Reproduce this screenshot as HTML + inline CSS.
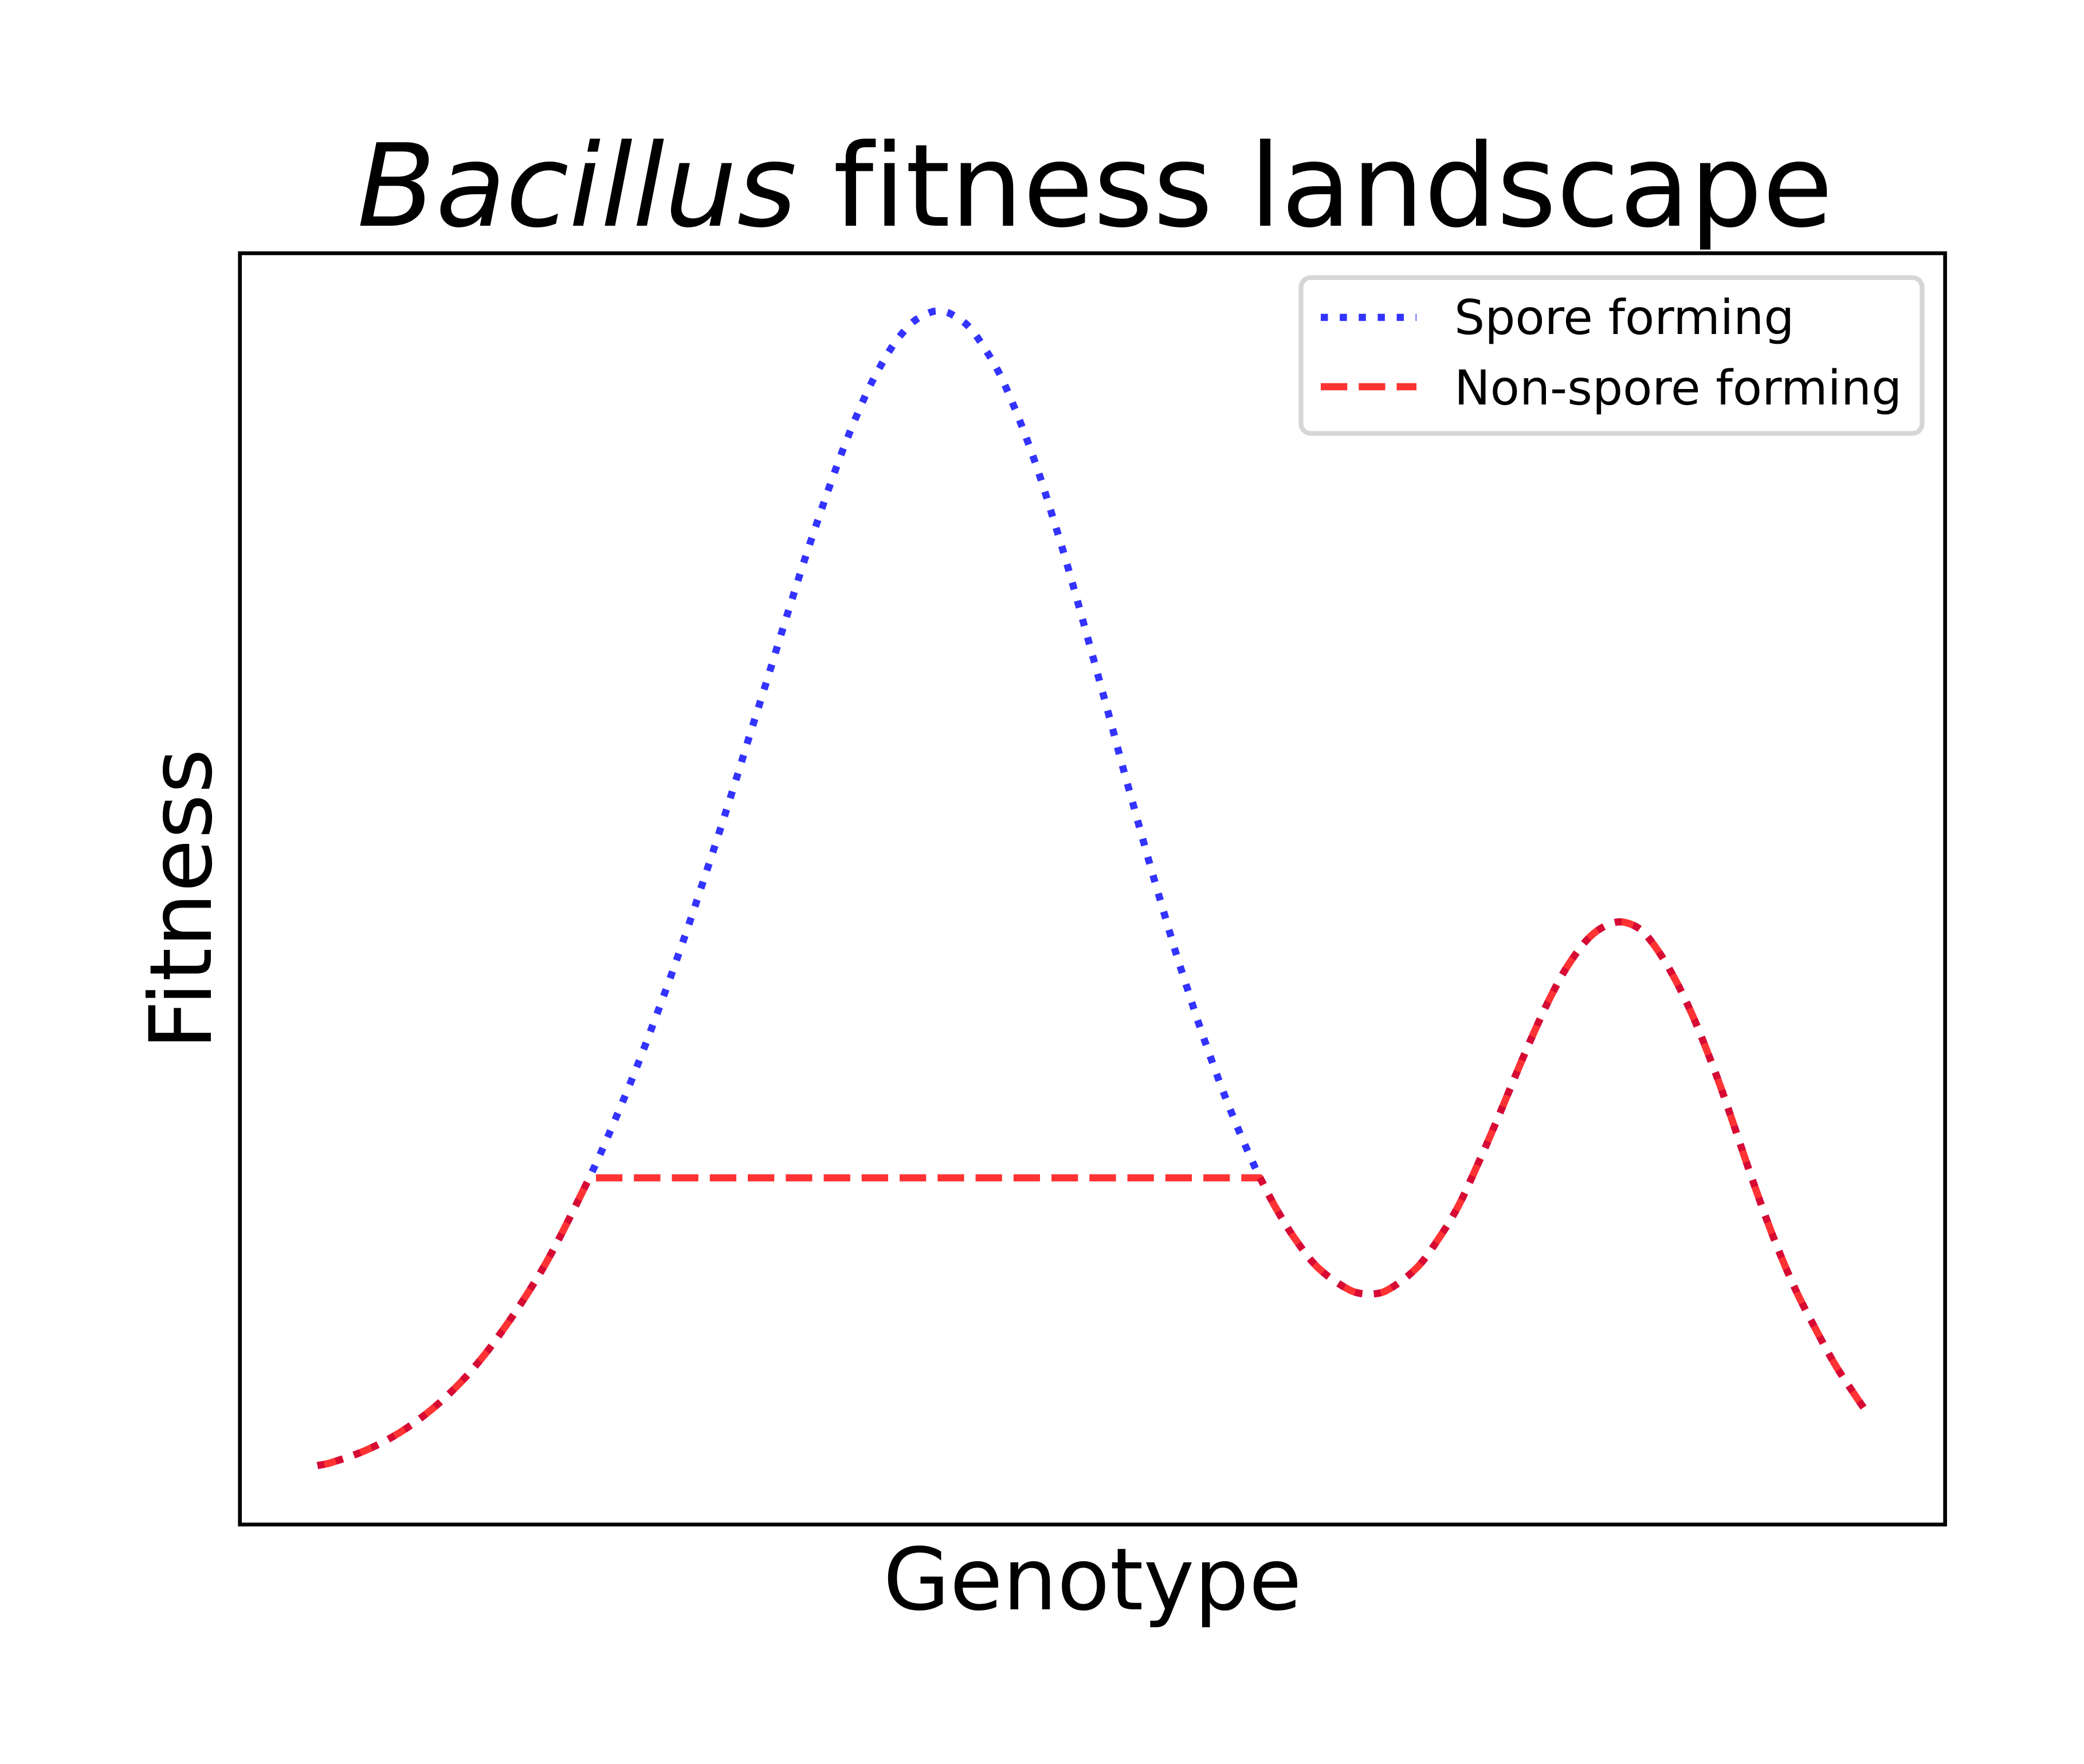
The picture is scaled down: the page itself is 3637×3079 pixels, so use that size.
<!DOCTYPE html>
<html lang="en">
<head>
<meta charset="utf-8">
<title>Bacillus fitness landscape</title>
<style>
html,body{margin:0;padding:0;background:#fff;}
svg{display:block;}
text{font-family:"DejaVu Sans",sans-serif;fill:#000;text-rendering:geometricPrecision;font-variant-ligatures:none;}
</style>
</head>
<body>
<svg id="chart" xmlns="http://www.w3.org/2000/svg" width="3637" height="3079" viewBox="0 0 3637 3079">
  <rect x="0" y="0" width="3637" height="3079" fill="#ffffff"/>
  <text x="1911" y="394" font-size="200" text-anchor="middle"><tspan font-style="italic">Bacillus</tspan> fitness landscape</text>
  <g id="series"></g>
  <rect x="418.7" y="442" width="2975.9" height="2219" fill="none" stroke="#000" stroke-width="6.67"/>
  <text x="1906.6" y="2809" font-size="150" text-anchor="middle">Genotype</text>
  <text transform="translate(368 1569) rotate(-90)" font-size="150" letter-spacing="1" text-anchor="middle">Fitness</text>
  <g>
    <rect x="2270.5" y="484.5" width="1084" height="272" rx="17" ry="17" fill="#ffffff" fill-opacity="0.8" stroke="#d6d6d6" stroke-width="8.33"/>
    <line x1="2305" y1="554" x2="2472" y2="554" stroke="#0000ff" stroke-opacity="0.8" stroke-width="12.5" stroke-dasharray="12.5 20.625"/>
    <text x="2538" y="583" font-size="83.8">Spore forming</text>
    <line x1="2305" y1="675" x2="2472" y2="675" stroke="#ff0000" stroke-opacity="0.8" stroke-width="12.5" stroke-dasharray="46.25 20"/>
    <text x="2538" y="706" font-size="83.8">Non-spore forming</text>
  </g>
</svg>
<script>
const genotype = [0,0.82,3.12,5.29,7.27,9.08,10.68,12.15,13.51,14.77,15.91,17,17.54,18.3,19.27,20.21,21.11,21.97,22.81,24.02,24.79,25.56,26.31,27.05,27.77,28.5,29.23,29.95,30.68,31.42,32.2,33,33.83,34.75,35.75,36.96,37.67,38.52,39.59,40.22,40.84,41.85,42.62,43.91,44.91,45.8,46.61,47.35,48.07,48.75,49.41,50.06,50.71,51.35,51.98,52.64,53.29,53.96,54.65,55.34,56.09,56.85,57.66,58.51,59.43,60.41,60.81,61.79,63.09,64.61,66.59,67.76,68.96,70.9,72.36,73.59,74.66,75.65,76.6,77.54,78.51,79.55,80.74,82.25,83.83,85.18,86.32,87.58,88.65,89.59,90.46,91.28,92.63,94,95.37,96.74,97.91,99.25,99.77];
const sporeFitness = [0.1,0.33,1.42,2.94,4.85,7.08,9.52,12.18,14.9,17.69,20.58,23.52,25,27.22,30.25,33.27,36.35,39.42,42.49,47.15,50.26,53.39,56.51,59.65,62.79,65.91,69.05,72.19,75.32,78.45,81.58,84.69,87.76,90.83,93.81,96.68,97.99,99.16,99.91,100,99.76,98.87,97.63,94.81,91.82,88.77,85.68,82.54,79.4,76.24,73.07,69.91,66.74,63.58,60.41,57.23,54.08,50.91,47.76,44.63,41.49,38.36,35.26,32.18,29.12,26.12,25,22.48,19.67,17.14,15.29,14.94,15.24,17.19,19.8,22.53,25.59,28.6,31.62,34.66,37.67,40.66,43.52,46.05,47.13,46.64,44.96,42.18,39.22,36.16,33.09,29.92,24.6,19.59,15.27,11.68,8.82,6.07,5.06];
const nonSporeFitness = [0.1,0.33,1.42,2.94,4.85,7.08,9.52,12.18,14.9,17.69,20.58,23.52,25,25,25,25,25,25,25,25,25,25,25,25,25,25,25,25,25,25,25,25,25,25,25,25,25,25,25,25,25,25,25,25,25,25,25,25,25,25,25,25,25,25,25,25,25,25,25,25,25,25,25,25,25,25,25,22.48,19.67,17.14,15.29,14.94,15.24,17.19,19.8,22.53,25.59,28.6,31.62,34.66,37.67,40.66,43.52,46.05,47.13,46.64,44.96,42.18,39.22,36.16,33.09,29.92,24.6,19.59,15.27,11.68,8.82,6.07,5.06];
const xDomain = [-5, 105];
const yDomain = [-5, 105];

const plotLeft = 418.7, plotRight = 3394.6, plotTop = 442, plotBottom = 2661;
function xScale(v){ return plotLeft + (v - xDomain[0]) / (xDomain[1] - xDomain[0]) * (plotRight - plotLeft); }
function yScale(v){ return plotBottom - (v - yDomain[0]) / (yDomain[1] - yDomain[0]) * (plotBottom - plotTop); }

function chord(a, b){ return Math.hypot(a[0] - b[0], a[1] - b[1]); }

// Chord-length smoothing through the read values; flat runs stay straight with sharp entry and exit.
function buildPath(xs, ys, from, to){
  const pts = [];
  for (let i = from; i <= to; i++) pts.push([xScale(xs[i]), yScale(ys[i])]);
  function tangent(i){
    if (i <= 0) return [(pts[1][0] - pts[0][0]) / chord(pts[0], pts[1]), (pts[1][1] - pts[0][1]) / chord(pts[0], pts[1])];
    const n = pts.length - 1;
    if (i >= n) return [(pts[n][0] - pts[n - 1][0]) / chord(pts[n], pts[n - 1]), (pts[n][1] - pts[n - 1][1]) / chord(pts[n], pts[n - 1])];
    const t = chord(pts[i - 1], pts[i]) + chord(pts[i], pts[i + 1]);
    return [(pts[i + 1][0] - pts[i - 1][0]) / t, (pts[i + 1][1] - pts[i - 1][1]) / t];
  }
  let d = 'M' + pts[0][0].toFixed(2) + ' ' + pts[0][1].toFixed(2);
  for (let i = 0; i < pts.length - 1; i++) {
    const p1 = pts[i], p2 = pts[i + 1];
    if (Math.abs(p1[1] - p2[1]) < 0.01) { d += 'L' + p2[0].toFixed(2) + ' ' + p2[1].toFixed(2); continue; }
    const h = chord(p1, p2) / 3;
    const flatPrev = i > 0 && Math.abs(pts[i - 1][1] - p1[1]) < 0.01;
    const flatNext = i < pts.length - 2 && Math.abs(pts[i + 2][1] - p2[1]) < 0.01;
    const m1 = tangent(i), m2 = tangent(i + 1);
    const c1 = flatPrev ? p1 : [p1[0] + m1[0] * h, p1[1] + m1[1] * h];
    const c2 = flatNext ? p2 : [p2[0] - m2[0] * h, p2[1] - m2[1] * h];
    d += 'C' + c1[0].toFixed(2) + ' ' + c1[1].toFixed(2) + ' ' + c2[0].toFixed(2) + ' ' + c2[1].toFixed(2) + ' ' + p2[0].toFixed(2) + ' ' + p2[1].toFixed(2);
  }
  return d;
}

const seriesGroup = document.getElementById('series');
const SVG_NS = 'http://www.w3.org/2000/svg';
const dotDash = '12.5 20.625';
const lineDash = '46.25 20';
const lineWidth = 12.5;

function addLine(d, color, dash, offset){
  const el = document.createElementNS(SVG_NS, 'path');
  el.setAttribute('d', d);
  el.setAttribute('fill', 'none');
  el.setAttribute('stroke', color);
  el.setAttribute('stroke-opacity', '0.8');
  el.setAttribute('stroke-width', lineWidth);
  el.setAttribute('stroke-dasharray', dash);
  el.setAttribute('stroke-dashoffset', offset);
  el.setAttribute('stroke-linejoin', 'round');
  seriesGroup.appendChild(el);
  return el;
}

const lastIndex = genotype.length - 1;
let plateauEnd = lastIndex;
for (let i = lastIndex; i > 0; i--) {
  if (sporeFitness[i] !== nonSporeFitness[i]) { plateauEnd = i + 1; break; }
}

const sporeHead = addLine(buildPath(genotype, sporeFitness, 0, plateauEnd), '#0000ff', dotDash, 0);



const sporeTail = addLine(buildPath(genotype, sporeFitness, plateauEnd, lastIndex), '#0000ff', dotDash, 0);



const nonSporeLine = addLine(buildPath(genotype, nonSporeFitness, 0, lastIndex), '#ff0000', lineDash, 0);



// Keep the dotted tail in step with the dashes that lie over it.
const headOfRed = document.createElementNS(SVG_NS, 'path');
headOfRed.setAttribute('d', buildPath(genotype, nonSporeFitness, 0, plateauEnd));
sporeTail.setAttribute('stroke-dashoffset', (headOfRed.getTotalLength() % 33.125).toFixed(2));
</script>
</body>
</html>
